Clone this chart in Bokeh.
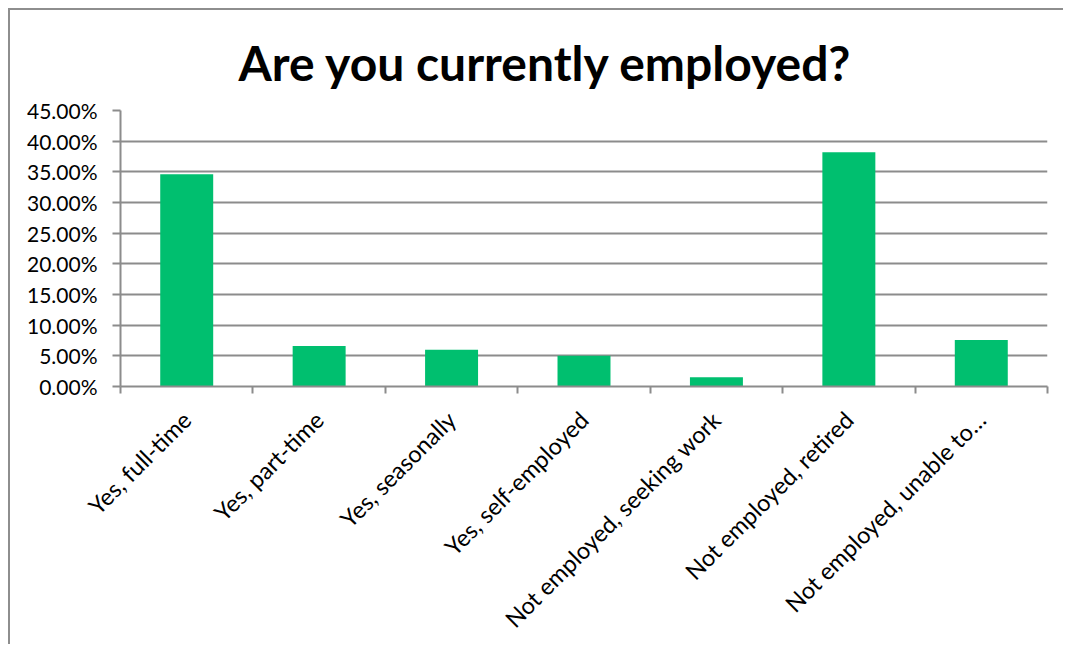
import math
from bokeh.plotting import figure
from bokeh.models import (Range1d, LinearAxis, FixedTicker, NumeralTickFormatter,
                          ColumnDataSource)
from bokeh.embed import file_html
from bokeh.resources import INLINE

# ---- data ----
categories = ["Yes, full-time", "Yes, part-time", "Yes, seasonally",
              "Yes, self-employed", "Not employed, seeking work",
              "Not employed, retired", "Not employed, unable to…"]
shares = [0.346, 0.066, 0.060, 0.050, 0.015, 0.382, 0.076]
y_ticks = [0.0, 0.05, 0.10, 0.15, 0.20, 0.25, 0.30, 0.35, 0.40, 0.45]
title_text = "Are you currently employed?"

GRAY = "#8c8c8c"
GREEN = "#00bf6f"
FONT = "Lato"

n = len(categories)
centers = [i + 0.5 for i in range(n)]
bounds = list(range(n + 1))

p = figure(width=1055, height=636, output_backend="svg", toolbar_location=None,
           x_range=Range1d(0, n), y_range=Range1d(0, y_ticks[-1]),
           x_axis_location=None, y_axis_location=None,
           min_border_left=110, min_border_right=18, min_border_top=100,
           min_border_bottom=260, title=title_text)
p.styles = {"margin-left": "8px", "margin-top": "8px",
            "border-top": "2px solid #8e8e8e", "border-left": "2px solid #8e8e8e"}
p.outline_line_color = None
p.background_fill_color = "white"
p.border_fill_color = "white"

p.title.text_font = FONT
p.title.text_font_size = "48px"
p.title.text_font_style = "bold"
p.title.text_color = "black"
p.title.align = "left"
p.title.offset = 118
p.title.standoff = 39

src = ColumnDataSource(dict(x=centers, val=shares, cat=categories))
p.vbar(x="x", top="val", width=0.4, source=src, fill_color=GREEN, line_color=None)

# y axis
yax = LinearAxis(ticker=FixedTicker(ticks=y_ticks),
                 formatter=NumeralTickFormatter(format="0.00%"))
yax.axis_line_color = GRAY
yax.axis_line_width = 2
yax.major_tick_line_color = GRAY
yax.major_tick_line_width = 2
yax.major_tick_out = 8
yax.major_tick_in = 0
yax.minor_tick_line_color = None
yax.major_label_text_font = FONT
yax.major_label_text_font_size = "21px"
yax.major_label_text_color = "black"
yax.major_label_standoff = 15
p.add_layout(yax, "left")

# x axis: tick marks at category boundaries
bax = LinearAxis(ticker=FixedTicker(ticks=bounds))
bax.axis_line_color = GRAY
bax.axis_line_width = 2
bax.major_tick_line_color = GRAY
bax.major_tick_line_width = 2
bax.major_tick_out = 7
bax.major_tick_in = 0
bax.minor_tick_line_color = None
bax.major_label_text_font_size = "1px"
bax.major_label_text_alpha = 0
bax.major_label_standoff = 0
p.add_layout(bax, "below")

# x axis: category labels at centers
cax = LinearAxis(ticker=FixedTicker(ticks=centers),
                 major_label_overrides={c: lab for c, lab in zip(centers, categories)})
cax.axis_line_color = None
cax.major_tick_line_color = None
cax.minor_tick_line_color = None
cax.major_label_orientation = math.pi / 4
cax.major_label_text_font = FONT
cax.major_label_text_font_size = "23.5px"
cax.major_label_text_color = "black"
cax.major_label_standoff = 16
p.add_layout(cax, "below")

p.xgrid.visible = False
p.ygrid.grid_line_color = GRAY
p.ygrid.grid_line_width = 2
p.ygrid.ticker = FixedTicker(ticks=y_ticks)

open("out.html", "w").write(file_html(p, INLINE))
